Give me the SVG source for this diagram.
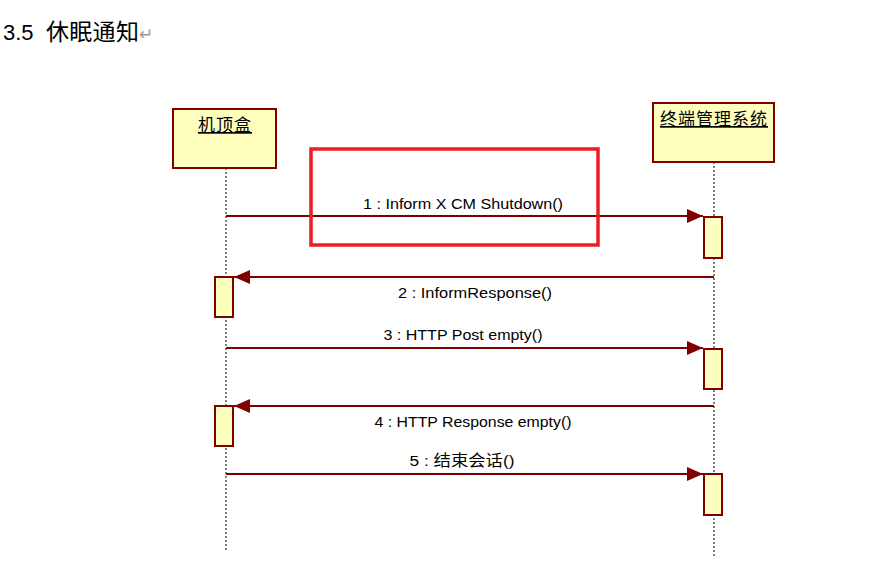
<svg xmlns="http://www.w3.org/2000/svg" width="881" height="572" viewBox="0 0 881 572">
<style>
.obj{fill:#FFFFC0;stroke:#800000;stroke-width:2}
.act{fill:#FFFFC0;stroke:#800000;stroke-width:2}
.life{stroke:#000;stroke-width:1;stroke-dasharray:2,2;fill:none}
.msg{stroke:#800000;stroke-width:2;fill:none}
.lbl{font-family:"Liberation Sans","Noto Sans CJK SC",sans-serif;font-size:15.5px;fill:#000;text-anchor:middle}
.name{font-family:"Noto Sans CJK SC",sans-serif;font-size:17px;letter-spacing:1px;fill:#000;text-anchor:middle;text-decoration:underline}
</style>
<defs>
<marker id="ah" markerWidth="16" markerHeight="14" refX="16" refY="7" orient="auto" markerUnits="userSpaceOnUse">
<path d="M0,0 L16,7 L0,14 Z" fill="#800000"/>
</marker>
</defs>
<rect width="881" height="572" fill="#fff"/>
<text x="3" y="40" font-family="Liberation Sans,sans-serif" font-size="22" fill="#000">3.5</text>
<text x="46" y="40" font-family="Noto Sans CJK SC,sans-serif" font-size="23" letter-spacing="0.3" fill="#000">休眠通知<tspan fill="#999" font-size="17">↵</tspan></text>
<g id="connectors">
<line class="life" x1="226" y1="168" x2="226" y2="550"/>
<line class="life" x1="714" y1="162" x2="714" y2="557"/>
<line class="msg" x1="226" y1="216" x2="703" y2="216" marker-end="url(#ah)"/>
<line class="msg" x1="714" y1="277" x2="234" y2="277" marker-end="url(#ah)"/>
<line class="msg" x1="226" y1="348" x2="703" y2="348" marker-end="url(#ah)"/>
<line class="msg" x1="714" y1="406" x2="234" y2="406" marker-end="url(#ah)"/>
<line class="msg" x1="226" y1="474" x2="703" y2="474" marker-end="url(#ah)"/>
<text class="lbl" x="463" y="209" textLength="200" lengthAdjust="spacingAndGlyphs">1 : Inform X CM Shutdown()</text>
<text class="lbl" x="475" y="298" textLength="154" lengthAdjust="spacingAndGlyphs">2 : InformResponse()</text>
<text class="lbl" x="463" y="340" textLength="159" lengthAdjust="spacingAndGlyphs">3 : HTTP Post empty()</text>
<text class="lbl" x="473" y="427" textLength="197" lengthAdjust="spacingAndGlyphs">4 : HTTP Response empty()</text>
<text class="lbl" x="462" y="466" textLength="105" lengthAdjust="spacingAndGlyphs">5 : 结束会话()</text>
</g>
<g id="stb">
<rect class="obj" x="173" y="109" width="103" height="59"/>
<text class="name" x="225" y="131">机顶盒</text>
</g>
<g id="tms">
<rect class="obj" x="653" y="103" width="121" height="59"/>
<text class="name" x="714" y="125">终端管理系统</text>
</g>
<g id="act1"><rect class="act" x="704" y="217" width="18" height="41"/></g>
<g id="act2"><rect class="act" x="215" y="277" width="18" height="40"/></g>
<g id="act3"><rect class="act" x="704" y="349" width="18" height="40"/></g>
<g id="act4"><rect class="act" x="215" y="406" width="18" height="40"/></g>
<g id="act5"><rect class="act" x="704" y="474" width="18" height="41"/></g>
<g id="highlight"><rect x="311" y="149" width="287" height="96" fill="none" stroke="#ED1C24" stroke-width="3.5"/></g>
</svg>
